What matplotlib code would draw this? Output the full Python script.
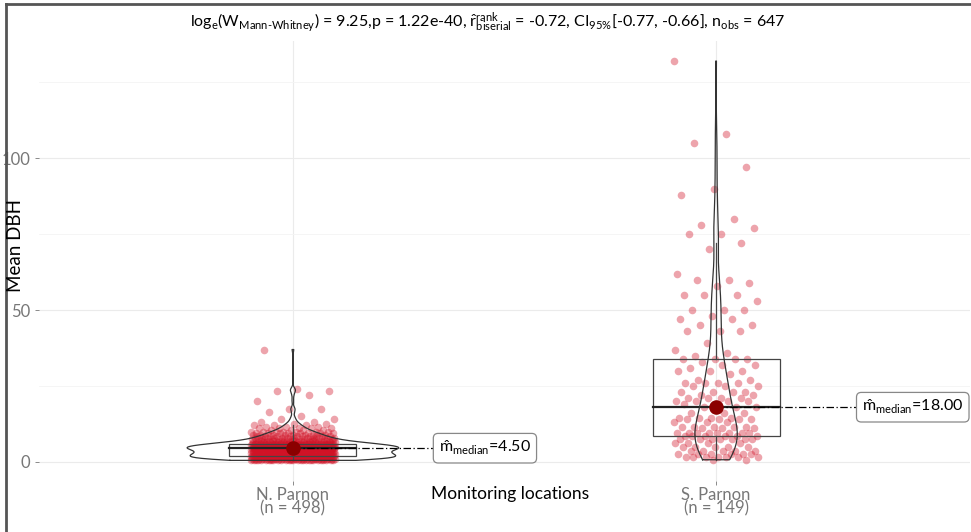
import numpy as np
import matplotlib
matplotlib.use("Agg")
import matplotlib.pyplot as plt
from matplotlib.patches import Rectangle
from matplotlib.lines import Line2D

plt.rcParams['font.family'] = ['Lato', 'DejaVu Sans']
plt.rcParams['mathtext.fontset'] = 'custom'
plt.rcParams['mathtext.rm'] = 'Lato'
plt.rcParams['mathtext.it'] = 'Lato:italic'
plt.rcParams['mathtext.bf'] = 'Lato:bold'

# data
groups = ["N. Parnon", "S. Parnon"]
group_n = [498, 149]

# N. Parnon: values (cm) and how many trees at each
n_vals = [0.5, 1.0, 1.5, 2.0, 2.5, 3.0, 3.5, 4.0, 4.5, 5.0, 5.5, 6.0, 6.5, 7.0, 7.5,
          8.0, 8.5, 9.0, 9.5, 10.0, 10.5, 11.0, 11.5, 12.0, 12.5, 13.0, 14.0, 15.0,
          16.5, 17.5, 20.0, 22.0, 23.5, 24.0, 37.0]
n_counts = [28, 32, 33, 34, 30, 30, 28, 28, 38, 35, 30, 28, 18, 16, 13,
            12, 10, 9, 8, 7, 4, 5, 3, 3, 2, 2, 2, 1,
            1, 2, 1, 1, 2, 1, 1]

# S. Parnon: individual values
s_vals = [132, 108, 105, 97, 90, 88, 80, 78, 77, 75, 75, 72, 70, 62, 60, 60, 59, 58,
          55, 55, 55, 53, 50, 50, 50, 48, 47, 47, 45, 45, 43, 43, 43, 39, 37, 36, 35,
          34, 34, 34, 34, 33, 32, 32, 31, 30, 30, 30, 29, 27, 27, 26, 26, 26, 26,
          25, 25, 25, 23, 23, 23, 23, 22, 22, 21, 21, 21, 21, 20, 20, 20, 20, 19, 19,
          18, 18, 18,
          16, 16, 16, 14.5, 14.5, 14.5, 14.5, 14, 14, 14, 14, 13, 13, 13,
          11.5, 11.5, 11.5, 11.5, 11.5, 11, 11, 11,
          9.5, 9.5, 9.5, 9.5, 9.5, 9.5, 9.5, 9.5, 8.5, 8.5, 8.5, 8.5, 8.5, 8.5,
          7.5, 7.5, 7.5, 7.5, 7.5, 7.5, 7.5, 6.3, 6.3, 6.3, 6.3, 5, 5, 5, 5, 5,
          3.6, 3.6, 3.6, 3.6, 3.6, 2.6, 2.6, 2.6, 2.6, 2.6, 2.6,
          1.6, 1.6, 1.6, 1.6, 1.6, 1.6, 1.6, 0.7, 0.7]

title_txt = (r"$\mathrm{log}_{\mathrm{e}}(\mathrm{W}_{\text{Mann-Whitney}})$ = 9.25,p = 1.22e-40, "
             r"$\hat{\mathrm{r}}_{\mathrm{biserial}}^{\mathrm{rank}}$ = -0.72, "
             r"$\mathrm{CI}_{95\%}$[-0.77, -0.66], $\mathrm{n}_{\mathrm{obs}}$ = 647")

data = [np.repeat(n_vals, n_counts), np.array(s_vals, dtype=float)]


def kde(v, grid):
    # gaussian kde with R's bw.nrd0
    q1, q3 = np.percentile(v, [25, 75])
    bw = 0.9 * min(v.std(ddof=1), (q3 - q1) / 1.34) * len(v) ** -0.2
    z = (grid[:, None] - v[None, :]) / bw
    return np.exp(-0.5 * z ** 2).sum(axis=1) / (len(v) * bw * np.sqrt(2 * np.pi))


fig = plt.figure(figsize=(9.71, 5.32), dpi=100)
ax = fig.add_axes([39 / 971, 1 - 481 / 532, 931 / 971, 440 / 532])

grids, dens = [], []
for v in data:
    g = np.linspace(v.min(), v.max(), 512)
    grids.append(g)
    dens.append(kde(v, g))
dmax = max(d.max() for d in dens)

for i, v in enumerate(data):
    xc = i + 1
    # jitter points (golden ratio spread)
    off = ((np.arange(len(v)) * 0.6180339887) % 1 - 0.5) * 0.2
    ax.scatter(xc + off, v, s=30, color=(0.82, 0.07, 0.15), alpha=0.38,
               linewidths=0, zorder=2)

    q1, med, q3 = np.percentile(v, [25, 50, 75])
    iqr = q3 - q1
    hi = v[v <= q3 + 1.5 * iqr].max()
    lo = v[v >= q1 - 1.5 * iqr].min()
    ax.add_patch(Rectangle((xc - 0.15, q1), 0.3, q3 - q1, fill=False,
                           ec='#444444', lw=0.9, zorder=3))
    ax.plot([xc - 0.15, xc + 0.15], [med, med], color='#222222', lw=1.6, zorder=3)
    ax.plot([xc, xc], [q3, hi], color='#444444', lw=0.9, zorder=3)
    ax.plot([xc, xc], [lo, q1], color='#444444', lw=0.9, zorder=3)

    # violin
    hw = dens[i] / dmax * 0.25
    g = grids[i]
    vx = np.concatenate([xc - hw, (xc + hw)[::-1], [xc - hw[0]]])
    vy = np.concatenate([g, g[::-1], [g[0]]])
    ax.plot(vx, vy, color='#333333', lw=0.9, zorder=4)

    # median point + label
    ax.plot([xc, xc + 0.333], [med, med], color='black', lw=0.9,
            ls=(0, (6, 2, 1, 2)), zorder=4)
    ax.scatter([xc], [med], s=110, color='#8B0000', zorder=5, linewidths=0)
    ax.text(xc + 0.345, med, r"$\hat{\mathrm{m}}_{\mathrm{median}}$=%.2f" % med,
            ha='left', va='center', fontsize=11.5, zorder=6,
            bbox=dict(boxstyle='round,pad=0.35,rounding_size=0.3', fc='white',
                      ec='#888888', lw=0.9))

ax.set_xlim(0.4, 2.6)
ax.set_ylim(-6.3, 138.6)
ax.set_xticks([1, 2])
ax.set_xticklabels(["%s\n(n = %d)" % (g, n) for g, n in zip(groups, group_n)],
                   linespacing=0.85)
ax.set_yticks([0, 50, 100])
ax.set_yticks([25, 75, 125], minor=True)
ax.tick_params(axis='both', colors='#777777', labelsize=12, length=3, width=0.6)
ax.tick_params(axis='y', which='minor', length=0)
ax.tick_params(axis='x', pad=1)
ax.grid(True, which='major', color='#EBEBEB', lw=0.8)
ax.grid(True, which='minor', axis='y', color='#F4F4F4', lw=0.6)
ax.set_axisbelow(True)
for s in ax.spines.values():
    s.set_visible(False)

fig.text(16 / 971, 1 - 245 / 532, "Mean DBH", rotation=90, ha='center', va='center',
         fontsize=13.5)
fig.text(510 / 971, 1 - 494 / 532, "Monitoring locations", ha='center', va='center',
         fontsize=12.5)
fig.text(488 / 971, 1 - 23 / 532, title_txt, ha='center', va='center', fontsize=11.5)

# image frame on left and top
fig.add_artist(Line2D([6 / 971, 6 / 971], [0, 1 - 4 / 532], color='#555555', lw=2))
fig.add_artist(Line2D([6 / 971, 1], [1 - 4 / 532, 1 - 4 / 532], color='#555555', lw=2))

fig.savefig("out.png", dpi=100)
